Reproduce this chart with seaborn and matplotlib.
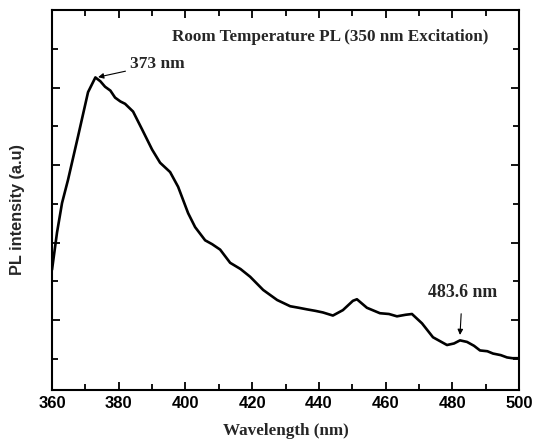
import matplotlib
matplotlib.use("Agg")
import matplotlib.pyplot as plt
from matplotlib.ticker import MultipleLocator
import seaborn as sns
import pandas as pd

wavelength = [360, 361.5, 363, 364.8, 367.8, 370.8, 373, 374.5, 375.9, 377.5, 378.9,
              380.5, 381.9, 384.3, 387, 390, 392.4, 395.4, 397.8, 400.8, 402.9,
              405.9, 408.0, 410.4, 413.4, 416.5, 419.4, 423.3, 427.5, 431.4, 434,
              436.4, 439, 441.2, 444.2, 447.2, 450.2, 451.4, 454.4, 458.3, 461,
              463.4, 466, 467.9, 470.9, 474.2, 478.4, 480.5, 482.3, 484.4, 486.5,
              488.3, 490.5, 492.2, 494.5, 496.4, 498, 500]
intensity = [1.65, 2.13, 2.51, 2.81, 3.37, 3.94, 4.13, 4.08, 4.01, 3.96, 3.87,
             3.82, 3.79, 3.69, 3.46, 3.20, 3.03, 2.91, 2.72, 2.38, 2.20,
             2.03, 1.98, 1.91, 1.74, 1.66, 1.56, 1.39, 1.26, 1.18, 1.16,
             1.14, 1.12, 1.10, 1.06, 1.13, 1.25, 1.27, 1.16, 1.09, 1.08,
             1.05, 1.07, 1.08, 0.96, 0.78, 0.68, 0.70, 0.74, 0.72, 0.67,
             0.61, 0.60, 0.57, 0.55, 0.52, 0.51, 0.51]

title_text = "Room Temperature PL (350 nm Excitation)"
peak_labels = ["373 nm", "483.6 nm"]
peak_pos = [373, 482.3]
peak_val = [4.13, 0.81]

df = pd.DataFrame({"Wavelength": wavelength, "Intensity": intensity})

sns.set_style("ticks")
plt.rcParams["font.family"] = ["Liberation Serif", "DejaVu Serif"]

fig = plt.figure(figsize=(5.34, 4.44), dpi=100)
ax = fig.add_axes([0.0974, 0.1216, 0.8746, 0.856])

sns.lineplot(data=df, x="Wavelength", y="Intensity", ax=ax, color="black",
             linewidth=1.9, estimator=None, sort=False)

ax.set_xlim(360, 500)
ax.set_ylim(0.1, 5.0)
ax.xaxis.set_major_locator(MultipleLocator(20))
ax.xaxis.set_minor_locator(MultipleLocator(10))
ax.yaxis.set_major_locator(MultipleLocator(1))
ax.yaxis.set_minor_locator(MultipleLocator(0.5))
ax.tick_params(which="both", direction="in", top=True, right=True, width=1.3, colors="black")
ax.tick_params(which="major", length=6)
ax.tick_params(which="minor", length=4)
ax.tick_params(axis="y", which="both", labelleft=False)
ax.tick_params(axis="x", which="major", pad=4)
for lab in ax.get_xticklabels():
    lab.set_fontfamily("Liberation Sans")
    lab.set_fontweight("bold")
    lab.set_fontsize(12)
for sp in ax.spines.values():
    sp.set_linewidth(1.5)
    sp.set_color("black")

ax.set_xlabel("Wavelength (nm)", fontsize=12.3, fontweight="bold", labelpad=9)
ax.set_ylabel("PL intensity (a.u)", fontsize=11.7, fontweight="bold",
              fontfamily="Liberation Sans")
ax.yaxis.set_label_coords(-0.057, (390 - 210) / 380)

ax.text(0.257, 0.929, title_text, transform=ax.transAxes, fontsize=12.3,
        fontweight="bold", ha="left", va="center")

ax.annotate(peak_labels[0], xy=(peak_pos[0] + 0.4, peak_val[0]), xytext=(383.4, 4.30),
            fontsize=12.5, fontweight="bold", ha="left", va="center",
            arrowprops=dict(arrowstyle="-|>", color="black", lw=0.8,
                            shrinkA=1, shrinkB=1, mutation_scale=8))
ax.annotate(peak_labels[1], xy=(peak_pos[1], peak_val[1]), xytext=(483.0, 1.36),
            fontsize=12.8, fontweight="bold", ha="center", va="center",
            arrowprops=dict(arrowstyle="-|>", color="black", lw=0.8,
                            shrinkA=7, shrinkB=0, mutation_scale=8))

fig.savefig("out.png", dpi=100)
